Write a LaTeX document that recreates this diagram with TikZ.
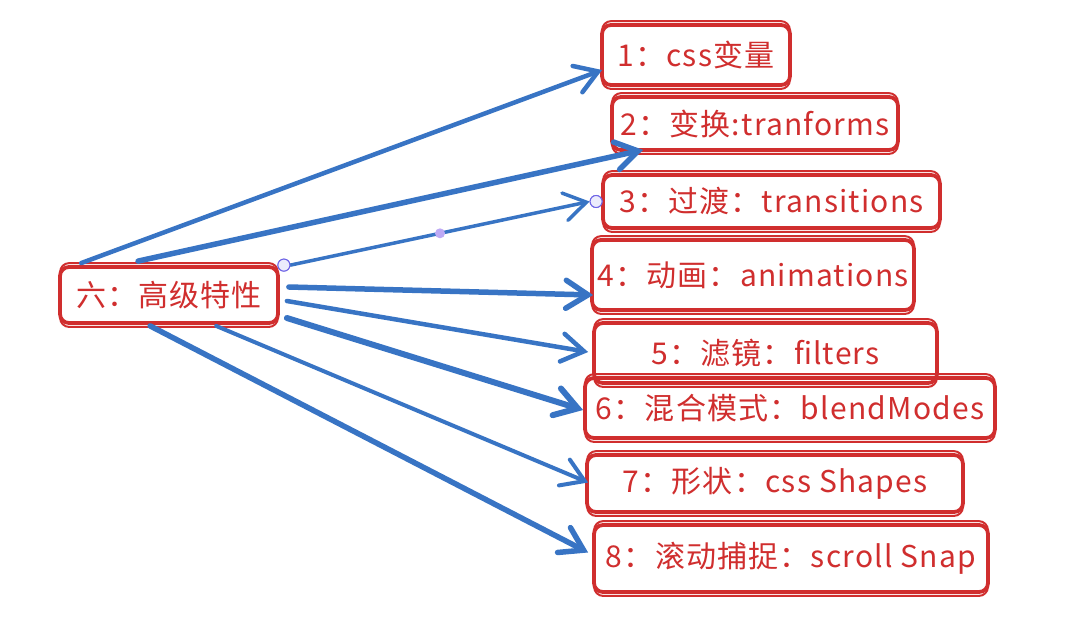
\documentclass[tikz,border=0pt]{standalone}
\usepackage{fontspec}
\setmainfont[LetterSpace=4]{Noto Sans CJK SC}
\usetikzlibrary{arrows.meta,calc}
\definecolor{boxred}{RGB}{208,46,46}
\definecolor{arrblue}{RGB}{56,116,196}
\definecolor{hdraw}{RGB}{110,100,230}
\definecolor{hfill}{RGB}{236,236,252}
\definecolor{dotfill}{RGB}{190,170,245}
\begin{document}
\begin{tikzpicture}[x=1pt,y=-1pt,
  box/.style={draw=boxred, line width=3.8pt, rounded corners=9pt, text=boxred,
    font=\fontsize{30}{32}\selectfont, inner sep=0pt},
  sk/.style={draw=boxred, line width=2pt, rounded corners=9pt},
  arr/.style={draw=arrblue, line width=4.5pt, line cap=round,
    -{Straight Barb[length=22pt,width=28pt,line cap=round]}},
  handle/.style={circle, draw=hdraw, fill=hfill, line width=1pt, minimum size=12pt, inner sep=0pt},
  middot/.style={circle, fill=dotfill, minimum size=10pt, inner sep=0pt},
]
\useasboundingbox[fill=white] (0,0) rectangle (1079,619);

\node[box, minimum width=218pt, minimum height=56pt] (main) at (169,295) {六：高级特性};
\node[box, minimum width=188pt, minimum height=60pt] (n1) at (696,55) {1：css变量};
\node[box, minimum width=286pt, minimum height=53pt] (n2) at (755,123.5) {2：变换:tranforms};
\node[box, minimum width=337pt, minimum height=53pt] (n3) at (771.5,201.5) {3：过渡：transitions};
\node[box, minimum width=322pt, minimum height=70pt] (n4) at (753,275) {4：动画：animations};
\node[box, minimum width=343pt, minimum height=60pt] (n5) at (765.5,353) {5：滤镜：filters};
\node[box, minimum width=410pt, minimum height=60pt] (n6) at (790,408) {6：混合模式：blendModes};
\node[box, minimum width=376pt, minimum height=57pt] (n7) at (775,483.5) {7：形状：css Shapes};
\node[box, minimum width=394pt, minimum height=67pt] (n8) at (791,558.5) {8：滚动捕捉：scroll Snap};

\foreach \n in {main,n1,n2,n3,n4,n5,n6,n7,n8}
  \draw[sk] ($(\n.north west)+(2,-2)$) rectangle ($(\n.south east)+(-2,2)$);

\coordinate (s1) at ($(main.north west)+(23,-2)$);
\coordinate (s2) at ($(main.north west)+(80,-4)$);
\coordinate (s4) at ($(main.east)+(9,-8)$);
\coordinate (s5) at ($(main.east)+(7,6)$);
\coordinate (s6) at ($(main.east)+(7,23)$);
\coordinate (s7) at ($(main.south west)+(158,1)$);
\coordinate (s8) at ($(main.south west)+(92,1)$);
\node[handle] (h1) at ($(main.north east)+(4,0)$) {};
\node[handle] (h2) at ($(n3.west)+(-5,0)$) {};

\coordinate (t1) at ($(n1.west)+(2,15)$);
\coordinate (t2) at ($(n2.south west)+(33,-2)$);
\coordinate (t4) at ($(n4.west)+(3,20)$);
\coordinate (t5) at ($(n5.west)+(-4,-1)$);
\coordinate (t6) at ($(n6.west)+(0,2)$);
\coordinate (t7) at ($(n7.west)+(3,-1)$);
\coordinate (t8) at ($(n8.west)+(-4,-6)$);

\draw[arr, line width=4.5pt] (s1) -- (t1);
\draw[arr, line width=5.5pt] (s2) -- (t2);
\draw[arr, line width=3.5pt] (h1.east) -- (h2.west);
\draw[arr, line width=5.5pt] (s4) -- (t4);
\draw[arr, line width=4.5pt] (s5) -- (t5);
\draw[arr, line width=6pt] (s6) -- (t6);
\draw[arr, line width=4pt] (s7) -- (t7);
\draw[arr, line width=5.5pt] (s8) -- (t8);

\node[handle] at (h1) {};
\node[handle] at (h2) {};
\node[middot] (mid) at ($(h1)!0.5!(h2)$) {};
\end{tikzpicture}
\end{document}
